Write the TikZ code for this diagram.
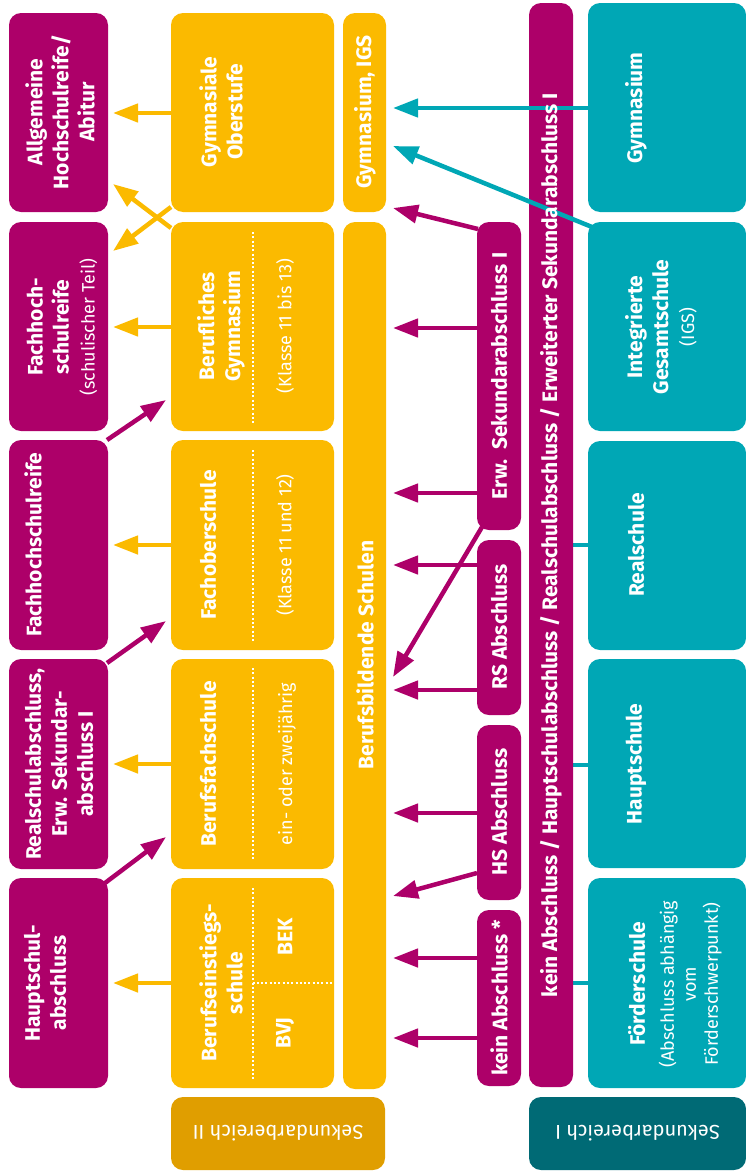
\documentclass[tikz,border=0pt]{standalone}
\usepackage{fontspec}
\setmainfont{Fira Sans}
\usetikzlibrary{arrows.meta,calc,fit}
\definecolor{mag}{HTML}{AD0069}
\definecolor{yel}{HTML}{FBBA00}
\definecolor{tea}{HTML}{00A7B5}
\definecolor{yeld}{HTML}{E09E00}
\definecolor{tead}{HTML}{006A75}
\newcommand\mysub{\fontsize{18}{22}\selectfont\mdseries}
\pgfdeclarelayer{bg}
\pgfsetlayers{bg,main}
\begin{document}
\begin{tikzpicture}[x=1pt,y=-1pt,
  box/.style={rounded corners=12pt, inner sep=0pt, outer sep=0pt, draw=none},
  mbox/.style={box, fill=mag}, ybox/.style={box, fill=yel}, tbox/.style={box, fill=tea},
  ttl/.style={rotate=90, text=white, font=\fontsize{21}{26}\selectfont\bfseries, align=center, inner sep=0pt},
  sub/.style={rotate=90, text=white, font=\mysub, align=center, inner sep=0pt},
  arr/.style={line width=4.5pt, -{Triangle[length=25pt,width=18pt]}},
  yarr/.style={arr, draw=yel}, marr/.style={arr, draw=mag}, tarr/.style={arr, draw=tea},
  tline/.style={line width=4.5pt, draw=tea},
  dots/.style={draw=white, line width=2pt, dash pattern=on 2pt off 2.3pt},
  seklab/.style={text=white, font=\fontsize{20}{24}\selectfont, rotate=180},
]
\useasboundingbox (0,0) rectangle (746,1175);
% column 1
\node[mbox, fit={(9,13) (108,212)}] (abi) {};
\node[mbox, fit={(9,222) (108,431)}] (fhsT) {};
\node[mbox, fit={(9,440) (108,650)}] (fhs) {};
\node[mbox, fit={(9,659) (108,869)}] (rsa) {};
\node[mbox, fit={(9,878) (108,1088)}] (hsa) {};
% column 2
\node[ybox, fit={(171,13) (334,212)}] (gyo) {};
\node[ybox, fit={(171,222) (334,431)}] (bgy) {};
\node[ybox, fit={(171,440) (334,650)}] (fos) {};
\node[ybox, fit={(171,659) (334,869)}] (bfs) {};
\node[ybox, fit={(171,878) (334,1088)}] (bes) {};
\node[box, fill=yeld, fit={(171,1097) (385,1170)}] (sek2) {};
% column 3
\node[ybox, fit={(343,13) (386,212)}] (gig) {};
\node[ybox, fit={(343,222) (386,1089)}] (bbs) {};
% column 4
\node[mbox, fit={(477,222) (521,530)}] (erw) {};
\node[mbox, fit={(477,540) (521,715)}] (rs) {};
\node[mbox, fit={(477,725) (521,900)}] (hs) {};
\node[mbox, fit={(477,910) (521,1086)}] (kein) {};
% column 5
\node[mbox, fit={(529,3) (573,1087)}] (bar) {};
% column 6
\node[tbox, fit={(588,3) (746,212)}] (gym) {};
\node[tbox, fit={(588,222) (746,431)}] (igs) {};
\node[tbox, fit={(588,441) (746,650)}] (rea) {};
\node[tbox, fit={(588,659) (746,868)}] (hau) {};
\node[tbox, fit={(588,878) (746,1088)}] (foe) {};
\node[box, fill=tead, fit={(529,1097) (746,1170)}] (sek1) {};

\begin{pgfonlayer}{bg}
% yellow arrows
\draw[yarr] (gyo.west |- 0,113) -- ($(abi.east |- 0,113)+(5,0)$);
\draw[yarr] ($(gyo.south west)+(0,-5)$) -- ($(fhsT.north east)+(5,29)$);
\draw[yarr] ($(bgy.north west)+(0,6)$) -- ($(abi.south east)+(5,-28)$);
\draw[yarr] (bgy.west |- 0,327) -- ($(fhsT.east |- 0,327)+(5,0)$);
\draw[yarr] (fos.west |- 0,545) -- ($(fhs.east |- 0,545)+(5,0)$);
\draw[yarr] (bfs.west |- 0,764) -- ($(rsa.east |- 0,764)+(5,0)$);
\draw[yarr] (bes.west |- 0,983) -- ($(hsa.east |- 0,983)+(5,0)$);
% magenta arrows col1 -> col2
\draw[marr] ($(fhs.north east)+(-1,0)$) -- ($(bgy.west |- 0,400)+(-5,0)$);
\draw[marr] ($(rsa.north east)+(-1,4)$) -- ($(fos.west |- 0,621)+(-5,0)$);
\draw[marr] ($(hsa.north east)+(-3,5)$) -- ($(bfs.west |- 0,837)+(-5,0)$);
% magenta arrows col4 -> col3
\draw[marr] ($(erw.north west)+(1,7)$) -- ($(gig.east |- 0,208)+(7,0)$);
\draw[marr] (erw.west |- 0,328) -- ($(bbs.east |- 0,328)+(7,0)$);
\draw[marr] (erw.west |- 0,493) -- ($(bbs.east |- 0,493)+(7,0)$);
\draw[marr] ($(erw.south west)+(5,-3)$) -- ($(bbs.east |- 0,677)+(7,0)$);
\draw[marr] (rs.west |- 0,565) -- ($(bbs.east |- 0,565)+(7,0)$);
\draw[marr] (rs.west |- 0,690) -- ($(bbs.east |- 0,690)+(7,0)$);
\draw[marr] (hs.west |- 0,813) -- ($(bbs.east |- 0,813)+(7,0)$);
\draw[marr] ($(hs.south west)+(0,-27)$) -- ($(bbs.east |- 0,896)+(7,0)$);
\draw[marr] (kein.west |- 0,958) -- ($(bbs.east |- 0,958)+(7,0)$);
\draw[marr] (kein.west |- 0,1038) -- ($(bbs.east |- 0,1038)+(7,0)$);
% teal connectors to bar
\draw[tline] (bar.east |- 0,545) -- (rea.west |- 0,545);
\draw[tline] (bar.east |- 0,765) -- (hau.west |- 0,765);
\draw[tline] (bar.east |- 0,983) -- (foe.west |- 0,983);
\end{pgfonlayer}

% teal arrows over the bar
\draw[tarr] (gym.west |- 0,108) -- ($(gig.east |- 0,108)+(7,0)$);
\draw[tarr] ($(igs.north west)+(4,5)$) -- ($(gig.east |- 0,146)+(7,0)$);

% dotted separators
\draw[dots] ($(bgy.north)+(0,10)$) -- ($(bgy.south)+(0,-8)$);
\draw[dots] ($(fos.north)+(0,10)$) -- ($(fos.south)+(0,-9)$);
\draw[dots] ($(bfs.north)+(0,9)$) -- ($(bfs.south)+(0,-9)$);
\draw[dots] ($(bes.north)+(0,10)$) -- ($(bes.south)+(0,-9)$);
\draw[dots] (bes.center |- 0,983) -- (bes.east |- 0,983);

% texts column 1
\node[ttl] (abi-t) at (60,112) {Allgemeine\\Hochschulreife/\\Abitur};
\node[ttl] (fhsT-t) at (62,327) {Fachhoch-\\schulreife\\{\mysub (schulischer Teil)}};
\node[ttl] (fhs-t) at (33,545) {Fachhochschulreife};
\node[ttl] (rsa-t) at (59,764) {Realschulabschluss,\\Erw. Sekundar-\\abschluss I};
\node[ttl] (hsa-t) at (45,983) {Hauptschul-\\abschluss};
% texts column 2
\node[ttl] (gyo-t) at (221,112) {Gymnasiale\\Oberstufe};
\node[ttl] (bgy-t) at (221,326) {Berufliches\\Gymnasium};
\node[sub] (bgy-s) at (285,326) {(Klasse 11 bis 13)};
\node[ttl] (fos-t) at (208,545) {Fachoberschule};
\node[sub] (fos-s) at (285,545) {(Klasse 11 und 12)};
\node[ttl] (bfs-t) at (208,764) {Berufsfachschule};
\node[sub] (bfs-s) at (287,764) {ein- oder zweijährig};
\node[ttl] (bes-t) at (221,983) {Berufseinstiegs-\\schule};
\node[ttl] (bek-t) at (285,937) {BEK};
\node[ttl] (bvj-t) at (285,1033) {BVJ};
\node[seklab] (sek2-t) at (sek2.center) {Sekundarbereich II};
% column 3
\node[ttl] (gig-t) at (365,112) {Gymnasium, IGS};
\node[ttl] (bbs-t) at (365,655) {Berufsbildende Schulen};
% column 4
\node[ttl] (erw-t) at (499,376) {Erw.\ \ Sekundarabschluss I};
\node[ttl] (rs-t) at (499,627) {RS Abschluss};
\node[ttl] (hs-t) at (499,812) {HS Abschluss};
\node[ttl] (kein-t) at (499,998) {kein Abschluss *};
% column 5
\node[ttl] (bar-t) at (551,545) {kein Abschluss / Hauptschulabschluss / Realschulabschluss / Erweiterter Sekundarabschluss I};
% column 6
\node[ttl] (gym-t) at (636,108) {Gymnasium};
\node[ttl] (igs-t) at (661,327) {Integrierte\\Gesamtschule\\{\mysub (IGS)}};
\node[ttl] (rea-t) at (636,545) {Realschule};
\node[ttl] (hau-t) at (636,764) {Hauptschule};
\node[ttl] (foe-t) at (675,984) {Förderschule\\[3pt]{\mysub (Abschluss abhängig}\\[-4pt]{\mysub vom}\\[-4pt]{\mysub Förderschwerpunkt)}};
\node[seklab] (sek1-t) at (sek1.center) {Sekundarbereich I};
\end{tikzpicture}
\end{document}
